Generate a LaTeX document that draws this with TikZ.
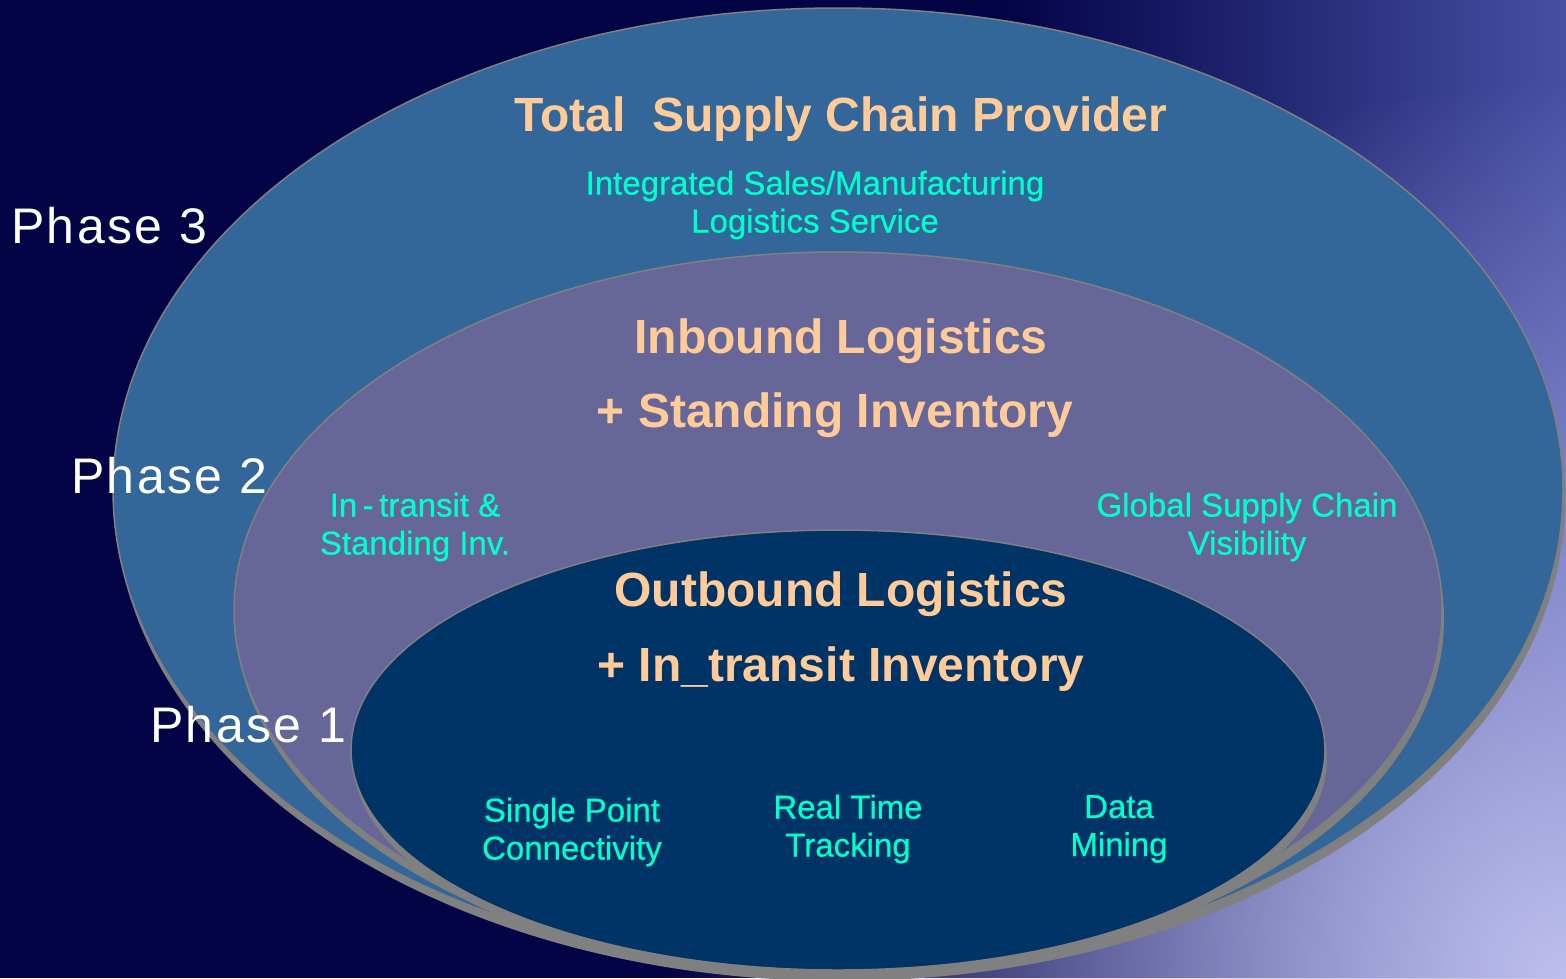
\documentclass[tikz,border=0pt]{standalone}
\usepackage{fontspec}
\setmainfont{Liberation Sans}
\newfontfamily\phasefont[LetterSpace=5]{Liberation Sans}
\newfontfamily\notefont[FakeBold=0.6]{Liberation Sans}
\usetikzlibrary{fadings}
\definecolor{bgnavy}{RGB}{3,3,70}
\definecolor{bgblue}{RGB}{70,80,165}
\definecolor{bglav}{RGB}{190,190,238}
\definecolor{outerfill}{RGB}{51,102,153}
\definecolor{midfill}{RGB}{102,102,153}
\definecolor{innerfill}{RGB}{0,51,102}
\definecolor{shadowgray}{RGB}{128,128,128}
\definecolor{peach}{RGB}{255,204,153}
\definecolor{aqua}{RGB}{0,255,204}
\tikzfading[name=myeast, left color=transparent!100, right color=transparent!0]
\tikzfading[name=myglow, inner color=transparent!0, outer color=transparent!100]
\tikzset{
  ringshadow/.style={fill=shadowgray},
  ringfill/.style={draw=shadowgray, line width=1.5pt},
  headtext/.style={text=peach, font=\fontsize{48}{56}\selectfont\bfseries, inner sep=0pt},
  notetext/.style={text=aqua, font=\fontsize{33}{38}\selectfont\notefont, align=center, inner sep=0pt},
  phasetext/.style={text=white, font=\fontsize{50}{60}\selectfont\phasefont, inner sep=0pt}
}
\begin{document}
\begin{tikzpicture}[x=1pt,y=-1pt]
\useasboundingbox (0,0) rectangle (1566,978);
% background
\fill[bgnavy] (0,0) rectangle (1566,978);
\fill[bgblue, path fading=myeast] (1000,0) rectangle (1566,978);
\begin{scope}
  \clip (0,0) rectangle (1566,978);
  \fill[bglav, path fading=myglow] (1566,978) circle (900);
\end{scope}
% phase 3 ellipse
\fill[ringshadow] (840,499) ellipse [x radius=725, y radius=482];
\fill[outerfill, ringfill] (838,490) ellipse [x radius=725, y radius=482];
% phase 2 ellipse
\fill[ringshadow] (840,619) ellipse [x radius=604, y radius=358];
\fill[midfill, ringfill] (838,610) ellipse [x radius=604, y radius=358];
% phase 1 ellipse
\fill[ringshadow] (840,759) ellipse [x radius=487, y radius=220];
\fill[innerfill, ringfill] (838,750) ellipse [x radius=487, y radius=220];
% texts
\node[headtext] (total) at (841,119) {Total\ \ Supply Chain Provider};
\node[notetext] (integ) at (815,205) {Integrated Sales/Manufacturing\\Logistics Service};
\node[headtext] (inbound) at (841,341) {Inbound Logistics};
\node[headtext] (standing) at (835,415) {+ Standing Inventory};
\node[notetext] (intransit) at (415,527) {In\,-\,transit \&\\Standing Inv.};
\node[notetext] (global) at (1247,527) {Global Supply Chain\\Visibility};
\node[headtext] (outbound) at (841,594) {Outbound Logistics};
\node[headtext] (intrinv) at (841,669) {+ In\_transit Inventory};
\node[notetext] (single) at (572,832) {Single Point\\Connectivity};
\node[notetext] (realtime) at (848,829) {Real Time\\Tracking};
\node[notetext] (datamining) at (1119,829) {Data\\Mining};
\node[phasetext] (p3) at (109,226) {Phase 3};
\node[phasetext] (p2) at (169,476) {Phase 2};
\node[phasetext] (p1) at (248,725) {Phase 1};
\end{tikzpicture}
\end{document}
